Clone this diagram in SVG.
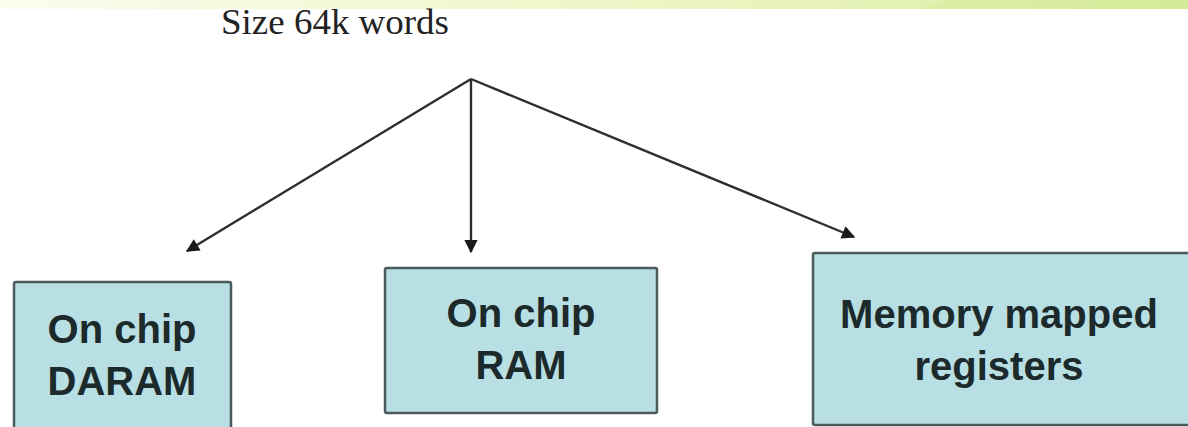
<svg xmlns="http://www.w3.org/2000/svg" width="1188" height="427" viewBox="0 0 1188 427">
  <defs>
    <linearGradient id="band" x1="0" y1="0" x2="1" y2="0">
      <stop offset="0" stop-color="#fafcee"/>
      <stop offset="0.45" stop-color="#f0f7cc"/>
      <stop offset="0.8" stop-color="#e2f0b0"/>
      <stop offset="1" stop-color="#d6eb98"/>
    </linearGradient>
    <marker id="arrow" viewBox="0 0 10 10" refX="9" refY="5" markerWidth="6" markerHeight="5.5" orient="auto" markerUnits="strokeWidth">
      <path d="M0,0 L10,5 L0,10 z" fill="#1a1a1a"/>
    </marker>
    <style>
      .box { fill: #b8dfe3; stroke: #4b5a5c; stroke-width: 2.5; }
      .label { font-family: "Liberation Sans", Arial, sans-serif; font-weight: bold; font-size: 40px; fill: #1c2a2c; text-anchor: middle; }
      .edge { stroke: #2e2e2e; stroke-width: 2.4; fill: none; marker-end: url(#arrow); }
    </style>
  </defs>

  <rect width="1188" height="427" fill="#ffffff"/>
  <!-- header band -->
  <rect x="0" y="0" width="1188" height="9" fill="url(#band)"/>
  <path d="M920,9 L945,0 L1188,0 L1188,9 z" fill="#d3e99a" opacity="0.5"/>

  <g id="root">
    <text x="221" y="34" font-family="Liberation Serif, 'Times New Roman', serif" font-size="36" fill="#222" textLength="228" lengthAdjust="spacingAndGlyphs">Size 64k words</text>
  </g>

  <g id="connectors">
    <line class="edge" x1="471" y1="79" x2="187" y2="251"/>
    <line class="edge" x1="471" y1="79" x2="471" y2="252"/>
    <line class="edge" x1="471" y1="79" x2="854" y2="237"/>
  </g>

  <g id="daram">
    <rect class="box" x="14" y="282" width="217" height="160" rx="2"/>
    <text class="label" x="122" y="343">On chip</text>
    <text class="label" x="122" y="395">DARAM</text>
  </g>

  <g id="ram">
    <rect class="box" x="385" y="268" width="272" height="145" rx="2"/>
    <text class="label" x="521" y="327">On chip</text>
    <text class="label" x="521" y="379">RAM</text>
  </g>

  <g id="mmr">
    <rect class="box" x="813" y="253" width="390" height="172" rx="2"/>
    <text class="label" x="999" y="328">Memory mapped</text>
    <text class="label" x="999" y="380">registers</text>
  </g>
</svg>
